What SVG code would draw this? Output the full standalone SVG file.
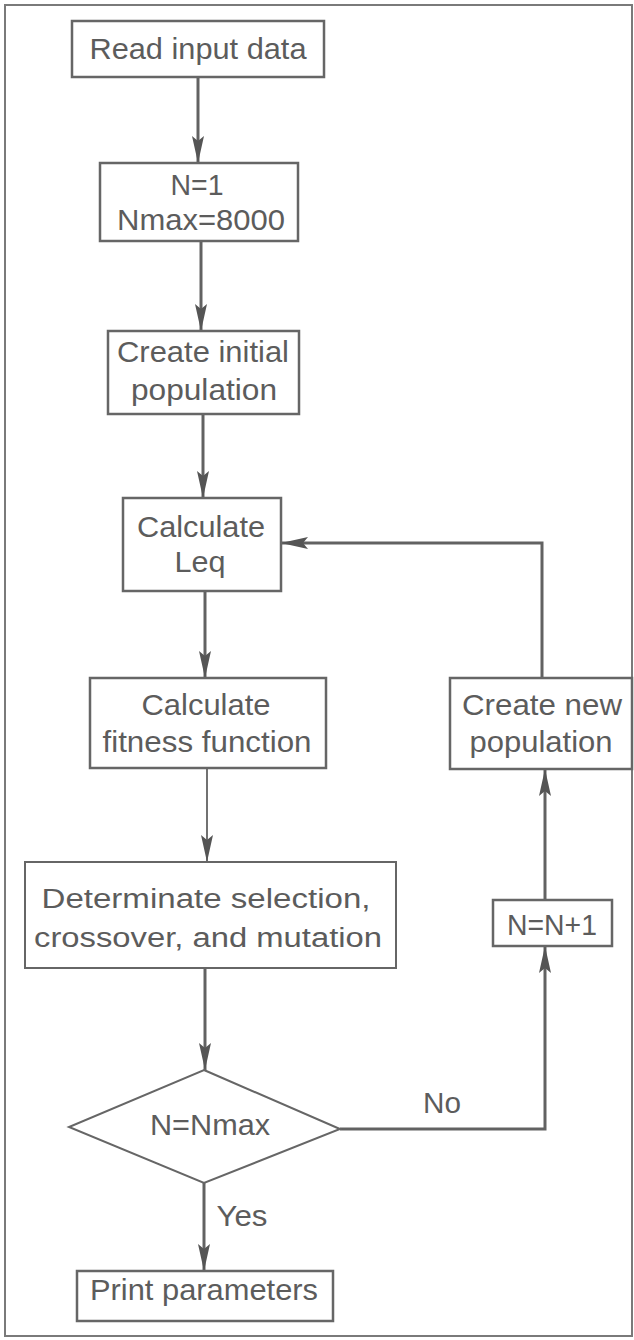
<svg xmlns="http://www.w3.org/2000/svg" width="634" height="1340" viewBox="0 0 634 1340">
<style>
.box{fill:#fff;stroke:#666;stroke-width:2.5}
.thin{stroke-width:2}
.t{font-family:"Liberation Sans",Arial,sans-serif;font-size:30px;fill:#5c5c5c;text-anchor:middle}
.s{font-size:27px}
.c{fill:none;stroke:#626262;stroke-width:3}
</style>
<defs>
<marker id="ah" viewBox="0 0 28 14" refX="27" refY="7" markerWidth="28" markerHeight="14" orient="auto" markerUnits="userSpaceOnUse">
<path d="M0,1 L27,7 L0,13 L5,7 Z" fill="#555"/>
</marker>
</defs>
<rect x="5" y="5" width="627" height="1331" fill="#fff" stroke="#7a7a7a" stroke-width="2"/>
<g id="connectors">
<line class="c" x1="198" y1="77" x2="198" y2="163" marker-end="url(#ah)"/>
<line class="c" x1="201" y1="241" x2="201" y2="331" marker-end="url(#ah)"/>
<line class="c" x1="203" y1="414" x2="203" y2="498" marker-end="url(#ah)"/>
<line class="c" x1="205" y1="591" x2="205" y2="678" marker-end="url(#ah)"/>
<line class="c" style="stroke-width:1.8" x1="207" y1="768" x2="207" y2="862" marker-end="url(#ah)"/>
<line class="c" x1="205" y1="968" x2="205" y2="1070" marker-end="url(#ah)"/>
<line class="c" x1="204" y1="1183" x2="204" y2="1271" marker-end="url(#ah)"/>
<polyline class="c" points="340,1129 545,1129 545,946" marker-end="url(#ah)"/>
<line class="c" x1="545" y1="900" x2="545" y2="769" marker-end="url(#ah)"/>
<polyline class="c" points="542,678 542,543 281,543" marker-end="url(#ah)"/>
<text class="t" x="442" y="1113" textLength="38" lengthAdjust="spacingAndGlyphs">No</text>
<text class="t" x="242" y="1226" textLength="51" lengthAdjust="spacingAndGlyphs">Yes</text>
</g>
<g id="read">
<rect class="box" x="72" y="21" width="252" height="56"/>
<text class="t" x="198" y="59" textLength="217" lengthAdjust="spacingAndGlyphs">Read input data</text>
</g>
<g id="init">
<rect class="box" x="100" y="163" width="198" height="78"/>
<text class="t" x="197" y="195" textLength="53" lengthAdjust="spacingAndGlyphs">N=1</text>
<text class="t" x="201" y="230" textLength="168" lengthAdjust="spacingAndGlyphs">Nmax=8000</text>
</g>
<g id="create-initial">
<rect class="box" x="108" y="331" width="191" height="83"/>
<text class="t" x="203" y="362" textLength="172" lengthAdjust="spacingAndGlyphs">Create initial</text>
<text class="t" x="204" y="400" textLength="146" lengthAdjust="spacingAndGlyphs">population</text>
</g>
<g id="leq">
<rect class="box" x="123" y="498" width="158" height="93"/>
<text class="t" x="201" y="537" textLength="128" lengthAdjust="spacingAndGlyphs">Calculate</text>
<text class="t" x="200" y="572" textLength="51" lengthAdjust="spacingAndGlyphs">Leq</text>
</g>
<g id="fitness">
<rect class="box" x="90" y="678" width="236" height="90"/>
<text class="t" x="206" y="715" textLength="129" lengthAdjust="spacingAndGlyphs">Calculate</text>
<text class="t" x="207" y="752" textLength="209" lengthAdjust="spacingAndGlyphs">fitness function</text>
</g>
<g id="ga">
<rect class="box thin" x="25" y="862" width="371" height="106"/>
<text class="t s" x="206" y="908" textLength="329" lengthAdjust="spacingAndGlyphs">Determinate selection,</text>
<text class="t s" x="208" y="947" textLength="348" lengthAdjust="spacingAndGlyphs">crossover, and mutation</text>
</g>
<g id="decision">
<polygon class="box thin" points="204,1070 340,1129 204,1183 69,1127"/>
<text class="t" x="210" y="1135" textLength="120" lengthAdjust="spacingAndGlyphs">N=Nmax</text>
</g>
<g id="print">
<rect class="box" x="77" y="1271" width="256" height="50"/>
<text class="t" x="204" y="1300" textLength="228" lengthAdjust="spacingAndGlyphs">Print parameters</text>
</g>
<g id="newpop">
<rect class="box" x="450" y="678" width="182" height="91"/>
<text class="t" x="542" y="715" textLength="160" lengthAdjust="spacingAndGlyphs">Create new</text>
<text class="t" x="541" y="752" textLength="143" lengthAdjust="spacingAndGlyphs">population</text>
</g>
<g id="increment">
<rect class="box" x="493" y="900" width="119" height="46"/>
<text class="t" x="552" y="935" textLength="90" lengthAdjust="spacingAndGlyphs">N=N+1</text>
</g>
</svg>
